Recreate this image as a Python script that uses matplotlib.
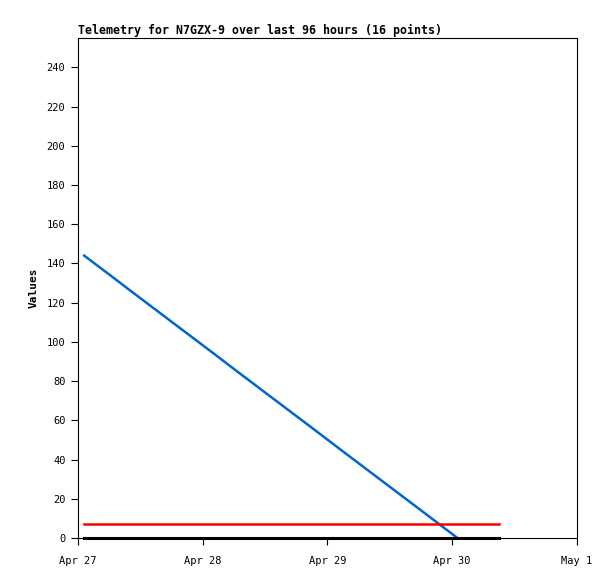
import datetime as dt
import matplotlib
matplotlib.use('Agg')
from matplotlib import pyplot as plt

# Data: hours after Apr 27 00:00, and the three telemetry series
hours = [1.2, 6.0, 11.0, 16.0, 21.0, 26.0, 31.0, 36.0,
         41.0, 46.0, 51.0, 56.0, 61.0, 66.0, 73.0, 80.9]
blue_vals = [144, 134.4, 124.3, 114.3, 104.3, 94.3, 84.2, 74.2,
             64.2, 54.2, 44.1, 34.1, 24.1, 14.1, 0, float('nan')]
red_vals = [7] * 16
black_vals = [0] * 16
tick_days = ['Apr 27', 'Apr 28', 'Apr 29', 'Apr 30', 'May 1']

start = dt.datetime(2024, 4, 27)
times = [start + dt.timedelta(hours=h) for h in hours]
tick_pos = [start + dt.timedelta(days=i) for i in range(len(tick_days))]

plt.rcParams['font.family'] = ['DejaVu Sans Mono']
fig = plt.figure(figsize=(6.15, 5.79), dpi=100)
ax = fig.add_axes([0.1268, 0.0708, 0.8114, 0.8636])

ax.plot(times, blue_vals, color='#0066cc', lw=1.8, zorder=2)
ax.plot(times, red_vals, color='#ff0000', lw=1.8, zorder=3)
ax.plot(times, black_vals, color='black', lw=2.2, zorder=4, clip_on=False)

ax.set_xlim(tick_pos[0], tick_pos[-1])
ax.set_ylim(0, 255)
ax.set_xticks(tick_pos)
ax.set_xticklabels(tick_days)
ax.set_yticks(range(0, 241, 20))
ax.tick_params(labelsize=7.5, length=5, direction='out', pad=8)
ax.tick_params(axis='y', pad=4)

for s in ax.spines.values():
    s.set_linewidth(0.8)

ax.set_title("Telemetry for N7GZX-9 over last 96 hours (16 points)",
             loc='left', fontsize=8.4, fontweight='bold', pad=3)
ax.set_ylabel("Values", fontsize=8, fontweight='bold', labelpad=6)

plt.savefig('out.png', dpi=100)
